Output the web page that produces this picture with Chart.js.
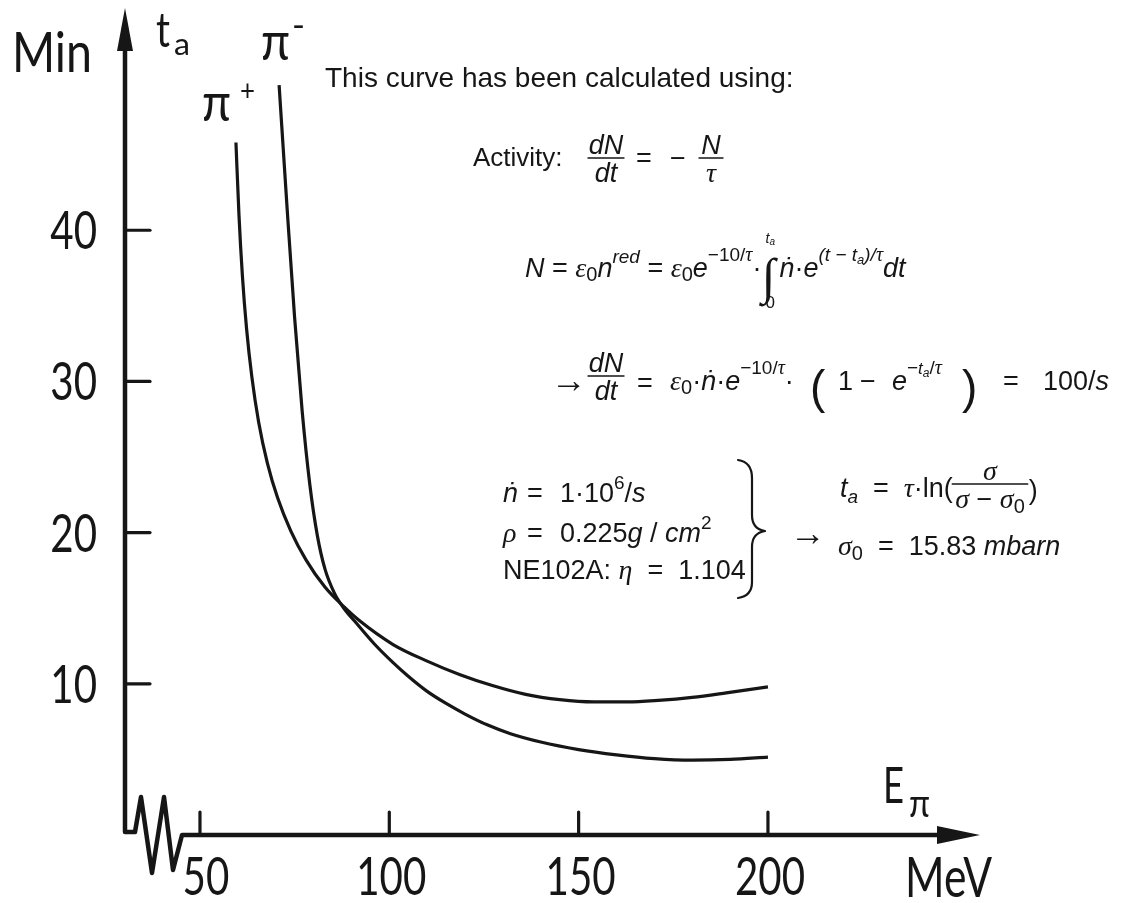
<!DOCTYPE html>
<html>
<head>
<meta charset="utf-8">
<script src="https://cdn.jsdelivr.net/npm/chart.js@4.4.1/dist/chart.umd.min.js"></script>
<style>
  html, body { margin: 0; padding: 0; background: #fff; }
  #wrap { width: 1123px; height: 903px; }
</style>
</head>
<body>
<div id="wrap"><canvas id="chart" width="1123" height="903"></canvas></div>
<script>
// values: E in MeV, t_a in minutes
const energyPlus = [59.5, 60.3, 61.2, 62.3, 63.7, 65.5, 67.8, 70.5, 74, 78, 83, 88, 92, 101, 110, 118.7, 127, 136, 145, 154, 163, 171, 180, 189, 200];
const tPlus      = [45.8, 41, 37, 33.5, 30.3, 27.3, 24.6, 22.3, 20.1, 18.2, 16.4, 15.1, 14.2, 12.6, 11.5, 10.6, 9.9, 9.3, 8.95, 8.8, 8.8, 8.9, 9.1, 9.4, 9.8];
const energyMinus = [70.9, 73, 75, 77, 79, 81, 83, 85.5, 88, 91, 96, 101, 105, 110, 115, 120, 126, 132, 140, 150, 160, 170, 180, 190, 200];
const tMinus      = [49.6, 41.5, 34.2, 28, 23.2, 19.8, 17.6, 16, 15, 14.1, 12.65, 11.4, 10.5, 9.5, 8.7, 8.0, 7.27, 6.7, 6.15, 5.65, 5.3, 5.05, 4.95, 5.0, 5.15];
const xTickValues = [50, 100, 150, 200];
const yTickValues = [10, 20, 30, 40];

const INK = '#161616';
const LETTER = 'Lato, "Liberation Sans", Arial, sans-serif';
const SANS = '"Liberation Sans", Arial, sans-serif';
const SERIF = '"Liberation Serif", "Times New Roman", serif';
const r = s => `${s}px ${SANS}`;
const it = s => `italic ${s}px ${SANS}`;
const gr = s => `italic ${s}px ${SERIF}`;

function toPoints(xs, ys) {
  return xs.map((v, i) => ({ x: v, y: ys[i] }));
}

// writes a run of text pieces [text, font, dy] and returns the end x
function put(ctx, parts, x, y) {
  for (const [t, f, dy] of parts) {
    ctx.font = f;
    ctx.fillText(t, x, y + (dy || 0));
    x += ctx.measureText(t).width;
  }
  return x;
}

function widthOf(ctx, parts) {
  let w = 0;
  for (const [t, f] of parts) { ctx.font = f; w += ctx.measureText(t).width; }
  return w;
}

function frac(ctx, cx, yBar, w, num, den) {
  put(ctx, num, cx - widthOf(ctx, num) / 2, yBar - 4);
  put(ctx, den, cx - widthOf(ctx, den) / 2, yBar + 24);
  ctx.lineWidth = 1.4;
  ctx.beginPath(); ctx.moveTo(cx - w / 2, yBar); ctx.lineTo(cx + w / 2, yBar); ctx.stroke();
}

// stencil-like lettering: squeezed sideways to the width it has in the drawing
function letter(ctx, text, x, y, size, w, align) {
  ctx.save();
  ctx.font = `${size}px ${LETTER}`;
  const sx = w ? w / ctx.measureText(text).width : 0.76;
  ctx.translate(x, y);
  ctx.scale(sx, 1);
  ctx.textAlign = align || 'left';
  ctx.fillText(text, 0, 0);
  ctx.restore();
}

function drawNotes(ctx) {
  ctx.fillStyle = INK; ctx.strokeStyle = INK;
  ctx.textAlign = 'left'; ctx.textBaseline = 'alphabetic';

  put(ctx, [['This curve has been calculated using:', r(28)]], 325, 87);

  // activity
  put(ctx, [['Activity:', r(26)]], 473, 166);
  frac(ctx, 606, 158, 36, [['dN', it(27)]], [['dt', it(27)]]);
  put(ctx, [['=', r(27)]], 636, 167);
  put(ctx, [['−', r(27)]], 670, 167);
  frac(ctx, 711, 158, 24, [['N', it(27)]], [['τ', gr(28)]]);

  // N = ...
  let x = put(ctx, [['N', it(27)], [' = ', r(27)], ['ε', gr(28)], ['0', r(20), 4], ['n', it(27)], ['red', it(19), -14],
    [' = ', r(27)], ['ε', gr(28)], ['0', r(20), 4], ['e', it(27)], ['−10/', r(19), -16], ['τ', gr(20), -16], ['·', r(27)]], 525, 277);
  ctx.font = `italic 50px ${SERIF}`;
  ctx.fillText('∫', x, 293);
  put(ctx, [['t', it(14)], ['a', it(10), 2]], x + 4, 243);
  put(ctx, [['0', r(17)]], x + 4, 308);
  put(ctx, [['ṅ', it(27)], ['·', r(27)], ['e', it(27)], ['(t − t', it(19), -16], ['a', it(13), -13], [')/', it(19), -16], ['τ', gr(20), -16], ['dt', it(27)]], x + 18, 277);

  // -> dN/dt = ...
  put(ctx, [['→', r(36)]], 551, 392);
  frac(ctx, 606, 376, 36, [['dN', it(27)]], [['dt', it(27)]]);
  put(ctx, [['=', r(27)]], 637, 392);
  put(ctx, [['ε', gr(28)], ['0', r(20), 4], ['·', r(27)], ['ṅ', it(27)], ['·', r(27)], ['e', it(27)], ['−10/', r(19), -16], ['τ', gr(20), -16], ['·', r(27)]], 670, 390);
  put(ctx, [['(', r(46)]], 810, 403);
  put(ctx, [['1', r(27)]], 838, 390);
  put(ctx, [['−', r(27)]], 860, 390);
  put(ctx, [['e', it(27)], ['−', r(19), -16], ['t', it(17), -16], ['a', it(12), -13], ['/', r(19), -16], ['τ', gr(20), -16]], 892, 390);
  put(ctx, [[')', r(46)]], 962, 403);
  put(ctx, [['=', r(27)]], 1003, 390);
  put(ctx, [['100/', r(27)], ['s', it(27)]], 1043, 390);

  // left block
  put(ctx, [['ṅ', it(27)]], 503, 502);
  put(ctx, [['=', r(27)]], 527, 502);
  put(ctx, [['1·10', r(27)], ['6', r(19), -13], ['/', r(27)], ['s', it(27)]], 560, 502);
  put(ctx, [['ρ', gr(28)]], 503, 542);
  put(ctx, [['=', r(27)]], 527, 542);
  put(ctx, [['0.225', r(27)], ['g', it(27)], [' / ', r(27)], ['cm', it(27)], ['2', r(19), -13]], 560, 542);
  put(ctx, [['NE102A: ', r(27)], ['η', gr(28)], ['  =  1.104', r(27)]], 503, 579);

  // brace
  ctx.lineWidth = 2.2;
  ctx.beginPath();
  ctx.moveTo(738, 460);
  ctx.quadraticCurveTo(752, 462, 752, 478);
  ctx.lineTo(752, 515);
  ctx.quadraticCurveTo(752, 529, 765, 531);
  ctx.quadraticCurveTo(752, 533, 752, 547);
  ctx.lineTo(752, 582);
  ctx.quadraticCurveTo(752, 596, 738, 598);
  ctx.stroke();

  // right block
  put(ctx, [['t', it(27)], ['a', it(19), 6], ['  =  ', r(27)], ['τ', gr(28)], ['·ln(', r(27)]], 840, 497);
  const den = [['σ', gr(28)], [' − ', r(27)], ['σ', gr(28)], ['0', r(20), 5]];
  const dw = widthOf(ctx, den);
  frac(ctx, 990, 484, dw + 6, [['σ', gr(28)]], den);
  put(ctx, [[')', r(27)]], 990 + dw / 2 + 4, 499);
  put(ctx, [['→', r(36)]], 790, 545);
  put(ctx, [['σ', gr(28)], ['0', r(20), 5], ['  =  ', r(27)], ['15.83 ', r(27)], ['mbarn', it(27)]], 838, 555);

  // axis lettering
  letter(ctx, 'Min', 12, 72, 56, 80);
  letter(ctx, 't', 156, 47, 48, 14);
  letter(ctx, 'a', 174, 55, 30, 16);
  letter(ctx, 'π', 261, 60, 54, 29);
  letter(ctx, '-', 292, 37, 34, 13);
  letter(ctx, 'π', 202, 121, 54, 29);
  letter(ctx, '+', 240, 101, 28, 15);
  letter(ctx, 'E', 883, 803, 50, 21);
  letter(ctx, 'π', 909, 817, 38, 21);
  letter(ctx, 'MeV', 905, 897, 56, 87);
}

const axisArt = {
  id: 'axisArt',
  afterDraw(chart) {
    const { ctx, chartArea: a, scales: { x, y } } = chart;
    const ox = x.getPixelForValue(x.min);
    const oy = y.getPixelForValue(0);
    ctx.save();
    ctx.strokeStyle = INK; ctx.fillStyle = INK;
    ctx.lineCap = 'round'; ctx.lineJoin = 'round';

    // axes with the broken-scale zigzag in the corner
    ctx.lineWidth = 4.5;
    ctx.beginPath();
    ctx.moveTo(ox, a.top + 40);
    ctx.lineTo(ox, oy - 3);
    [[10, -3], [16, -38], [27, 38], [39, -38], [48, 35], [57, 0]].forEach(([dx, dy]) => ctx.lineTo(ox + dx, oy + dy));
    ctx.lineTo(a.right - 40, oy);
    ctx.stroke();

    ctx.beginPath();
    ctx.moveTo(ox, a.top); ctx.lineTo(ox - 8, a.top + 43); ctx.lineTo(ox + 8, a.top + 43);
    ctx.closePath(); ctx.fill();
    ctx.beginPath();
    ctx.moveTo(a.right, oy); ctx.lineTo(a.right - 43, oy - 9); ctx.lineTo(a.right - 43, oy + 9);
    ctx.closePath(); ctx.fill();

    // tick marks point inwards, labels in the same lettering as the axis names
    ctx.lineWidth = 3.2;
    y.ticks.forEach(t => {
      const py = y.getPixelForValue(t.value);
      ctx.beginPath(); ctx.moveTo(ox, py); ctx.lineTo(ox + 25, py); ctx.stroke();
      letter(ctx, String(t.value), ox - 28, py + 19, 53, 0, 'right');
    });
    x.ticks.forEach(t => {
      const px = x.getPixelForValue(t.value);
      ctx.beginPath(); ctx.moveTo(px, oy); ctx.lineTo(px, oy - 23); ctx.stroke();
      letter(ctx, String(t.value), px + (t.value === 50 ? 6 : 2), 895, 53, 0, 'center');
    });

    drawNotes(ctx);
    ctx.restore();
  }
};

new Chart(document.getElementById('chart'), {
  type: 'line',
  data: {
    datasets: [
      { label: 'π+', data: toPoints(energyPlus, tPlus) },
      { label: 'π−', data: toPoints(energyMinus, tMinus) }
    ]
  },
  options: {
    responsive: false,
    animation: false,
    layout: { padding: { top: 8, right: 143, left: 0, bottom: 0 } },
    plugins: { legend: { display: false }, tooltip: { enabled: false } },
    elements: {
      point: { radius: 0 },
      line: { borderWidth: 3.2, borderColor: INK, cubicInterpolationMode: 'monotone', fill: false }
    },
    scales: {
      x: {
        type: 'linear', min: 30.2, max: 256,
        grid: { display: false, drawTicks: false },
        border: { display: false },
        afterFit: s => { s.height = 68; s.paddingLeft = 0; s.paddingRight = 0; },
        afterBuildTicks: s => { s.ticks = xTickValues.map(v => ({ value: v })); },
        ticks: { display: false }
      },
      y: {
        type: 'linear', min: 0, max: 54.7,
        grid: { display: false, drawTicks: false },
        border: { display: false },
        afterFit: s => { s.width = 125; s.paddingTop = 0; s.paddingBottom = 0; },
        afterBuildTicks: s => { s.ticks = yTickValues.map(v => ({ value: v })); },
        ticks: { display: false }
      }
    }
  },
  plugins: [axisArt]
});
</script>
</body>
</html>
